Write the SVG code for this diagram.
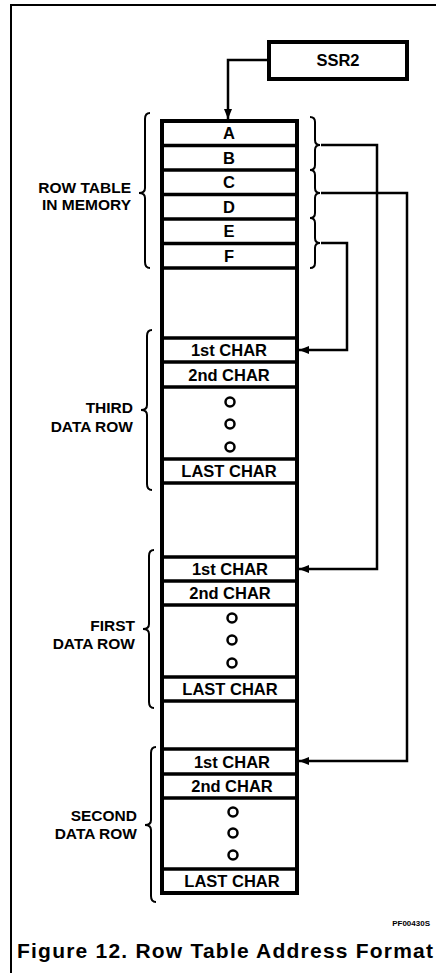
<svg xmlns="http://www.w3.org/2000/svg" width="436" height="973" viewBox="0 0 436 973">
<defs>
<marker id="ah" viewBox="0 0 10 10" refX="10" refY="5" markerWidth="4" markerHeight="4" orient="auto" markerUnits="strokeWidth">
<path d="M0,1 L10,5 L0,9 Z" fill="#000"/>
</marker>
<style>
.t{font-family:"Liberation Sans",Arial,sans-serif;font-weight:bold;fill:#000}
.c{font-size:16.5px;text-anchor:middle}
.l{font-size:15.5px;text-anchor:end}
.cell{fill:#fff;stroke:#000;stroke-width:3.5}
.col{fill:none;stroke:#000;stroke-width:4}
.br{fill:none;stroke:#000;stroke-width:2}
.cn{fill:none;stroke:#000;stroke-width:2.5}
.dot{fill:none;stroke:#000;stroke-width:2.5}
</style>
</defs>
<rect width="436" height="973" fill="#fff"/>
<g id="frame"><path d="M11,973 V5 H436" fill="none" stroke="#000" stroke-width="2"/></g>

<g id="ssr2">
<rect x="269" y="42" width="138" height="37" fill="#fff" stroke="#000" stroke-width="4"/>
<text class="t c" x="338" y="66">SSR2</text>
</g>

<g id="rowtable">
<line class="cell" x1="162" y1="145.5" x2="297" y2="145.5"/>
<line class="cell" x1="162" y1="170" x2="297" y2="170"/>
<line class="cell" x1="162" y1="194.5" x2="297" y2="194.5"/>
<line class="cell" x1="162" y1="219" x2="297" y2="219"/>
<line class="cell" x1="162" y1="243.5" x2="297" y2="243.5"/>
<line class="cell" x1="162" y1="268" x2="297" y2="268"/>
<text class="t c" x="229" y="139">A</text>
<text class="t c" x="229" y="163.5">B</text>
<text class="t c" x="229" y="188">C</text>
<text class="t c" x="229" y="212.5">D</text>
<text class="t c" x="229" y="237">E</text>
<text class="t c" x="229" y="261.5">F</text>
<path class="br" d="M150,113 Q145,113 145,119 L145,188 Q145,193 139,193 Q145,193 145,198 L145,262 Q145,268 150,268"/>
<text class="t l" x="131" y="193">ROW TABLE</text>
<text class="t l" x="131" y="210">IN MEMORY</text>
<path class="br" d="M310,117 Q315,117 315,122 L315,140 Q315,145 320,145 Q315,145 315,150 L315,165 Q315,170 310,170"/>
<path class="br" d="M310,170 Q315,170 315,175 L315,188 Q315,193 320,193 Q315,193 315,198 L315,213 Q315,218 310,218"/>
<path class="br" d="M310,218 Q315,218 315,223 L315,238 Q315,243 320,243 Q315,243 315,248 L315,263 Q315,268 310,268"/>
</g>

<g id="third-row">
<line class="cell" x1="162" y1="338" x2="297" y2="338"/>
<line class="cell" x1="162" y1="362" x2="297" y2="362"/>
<line class="cell" x1="162" y1="387" x2="297" y2="387"/>
<line class="cell" x1="162" y1="459" x2="297" y2="459"/>
<line class="cell" x1="162" y1="483" x2="297" y2="483"/>
<text class="t c" x="229" y="356">1st CHAR</text>
<text class="t c" x="229" y="380.5">2nd CHAR</text>
<circle class="dot" cx="230" cy="402" r="4.5"/>
<circle class="dot" cx="230" cy="424" r="4.5"/>
<circle class="dot" cx="230" cy="447" r="4.5"/>
<text class="t c" x="229" y="477">LAST CHAR</text>
<path class="br" d="M152,330 Q147,330 147,336 L147,405 Q147,410 141,410 Q147,410 147,415 L147,484 Q147,490 152,490"/>
<text class="t l" x="133" y="413">THIRD</text>
<text class="t l" x="133" y="432">DATA ROW</text>
</g>

<g id="first-row">
<line class="cell" x1="162" y1="557" x2="297" y2="557"/>
<line class="cell" x1="162" y1="581" x2="297" y2="581"/>
<line class="cell" x1="162" y1="605" x2="297" y2="605"/>
<line class="cell" x1="162" y1="677" x2="297" y2="677"/>
<line class="cell" x1="162" y1="701" x2="297" y2="701"/>
<text class="t c" x="230" y="575">1st CHAR</text>
<text class="t c" x="230" y="599">2nd CHAR</text>
<circle class="dot" cx="232" cy="618" r="4.5"/>
<circle class="dot" cx="232" cy="640" r="4.5"/>
<circle class="dot" cx="232" cy="663" r="4.5"/>
<text class="t c" x="230" y="695">LAST CHAR</text>
<path class="br" d="M154,550 Q149,550 149,556 L149,624 Q149,629 143,629 Q149,629 149,634 L149,702 Q149,708 154,708"/>
<text class="t l" x="135" y="631">FIRST</text>
<text class="t l" x="135" y="649">DATA ROW</text>
</g>

<g id="second-row">
<line class="cell" x1="162" y1="749" x2="297" y2="749"/>
<line class="cell" x1="162" y1="774" x2="297" y2="774"/>
<line class="cell" x1="162" y1="798" x2="297" y2="798"/>
<line class="cell" x1="162" y1="869" x2="297" y2="869"/>
<text class="t c" x="232" y="767.5">1st CHAR</text>
<text class="t c" x="232" y="792">2nd CHAR</text>
<circle class="dot" cx="233" cy="812" r="4.5"/>
<circle class="dot" cx="233" cy="833" r="4.5"/>
<circle class="dot" cx="233" cy="855" r="4.5"/>
<text class="t c" x="232" y="887">LAST CHAR</text>
<path class="br" d="M156,747 Q151,747 151,753 L151,820 Q151,825 145,825 Q151,825 151,830 L151,896 Q151,902 156,902"/>
<text class="t l" x="137" y="821">SECOND</text>
<text class="t l" x="137" y="839">DATA ROW</text>
</g>

<g id="column"><rect class="col" x="162" y="121" width="135" height="772"/></g>

<g id="connectors">
<path class="cn" d="M269,60 H228 V119" marker-end="url(#ah)"/>
<path class="cn" d="M321,145 H377 V569 H299" marker-end="url(#ah)"/>
<path class="cn" d="M321,193 H407 V761 H299" marker-end="url(#ah)"/>
<path class="cn" d="M321,243 H347 V350 H299" marker-end="url(#ah)"/>
</g>

<text class="t" x="430" y="926" font-size="8" text-anchor="end">PF00430S</text>
<text class="t" x="17" y="958" font-size="21" textLength="416" lengthAdjust="spacing">Figure 12. Row Table Address Format</text>
</svg>
